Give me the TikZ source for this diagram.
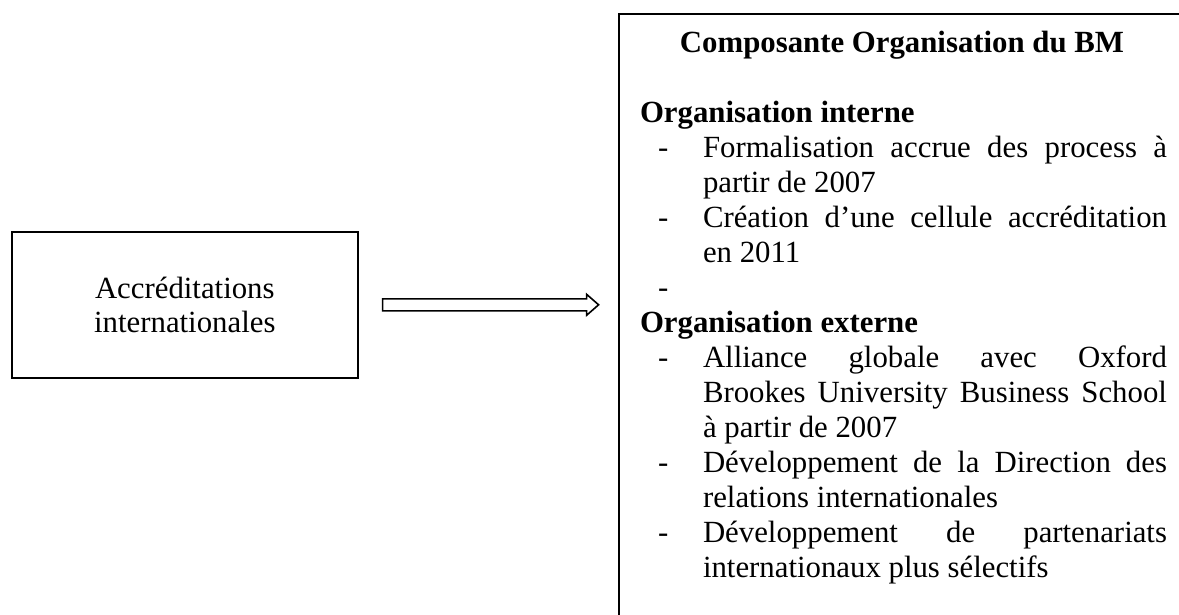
\documentclass[tikz,border=0pt]{standalone}
\usepackage{fontspec}
\setmainfont{Liberation Serif}
\usetikzlibrary{calc}
\tikzset{
  boxshape/.style={draw=black, line width=1.6pt, fill=none},
  txt/.style={inner sep=0pt, outer sep=0pt, anchor=base west, font=\fontsize{30.8}{35}\selectfont},
  head/.style={txt, font=\fontsize{30.8}{35}\selectfont\bfseries},
  arrowline/.style={draw=black, line width=1.6pt, fill=white, line join=miter}
}
\newcommand{\jline}[1]{\makebox[464pt][s]{#1}}
\begin{document}
\begin{tikzpicture}[x=1pt, y=-1pt]
\useasboundingbox (0,0) rectangle (1179,614);
% left box
\node[boxshape, anchor=north west, minimum width=346pt, minimum height=146pt, inner sep=0pt,
      align=center, font=\fontsize{30.8}{34}\selectfont] (L) at (11,231)
      {Accréditations\\internationales};
% right box (extends beyond the page on the right and at the bottom)
\node[boxshape, anchor=north west, minimum width=570pt, minimum height=650pt, inner sep=0pt] (R) at (618,13) {};
% block arrow between the boxes
\coordinate (as) at ($(L.east)+(24,0)$);
\coordinate (ae) at ($(as)+(216,0)$);
\draw[arrowline] ($(as)+(0,-6)$) -- ($(ae)+(-12,-6)$) -- ($(ae)+(-12,-10.5)$) -- (ae)
  -- ($(ae)+(-12,10.5)$) -- ($(ae)+(-12,6)$) -- ($(as)+(0,6)$) -- cycle;
% texts of the right box
\node[head, anchor=base] (title) at (902,52) {Composante Organisation du BM};
\node[head] (h1) at (640,122) {Organisation interne};
\node[txt] (d1) at (658,157) {-};
\node[txt] (l1) at (703,157) {\jline{Formalisation accrue des process à}};
\node[txt] (l2) at (703,192) {partir de 2007};
\node[txt] (d2) at (658,227) {-};
\node[txt] (l3) at (703,227) {\jline{Création d’une cellule accréditation}};
\node[txt] (l4) at (703,262) {en 2011};
\node[txt] (d3) at (658,297) {-};
\node[head] (h2) at (640,332) {Organisation externe};
\node[txt] (d4) at (658,367) {-};
\node[txt] (l5) at (703,367) {\jline{Alliance globale avec Oxford}};
\node[txt] (l6) at (703,402) {\jline{Brookes University Business School}};
\node[txt] (l7) at (703,437) {à partir de 2007};
\node[txt] (d5) at (658,472) {-};
\node[txt] (l8) at (703,472) {\jline{Développement de la Direction des}};
\node[txt] (l9) at (703,507) {relations internationales};
\node[txt] (d6) at (658,542) {-};
\node[txt] (l10) at (703,542) {\jline{Développement de partenariats}};
\node[txt] (l11) at (703,577) {internationaux plus sélectifs};
\end{tikzpicture}
\end{document}
